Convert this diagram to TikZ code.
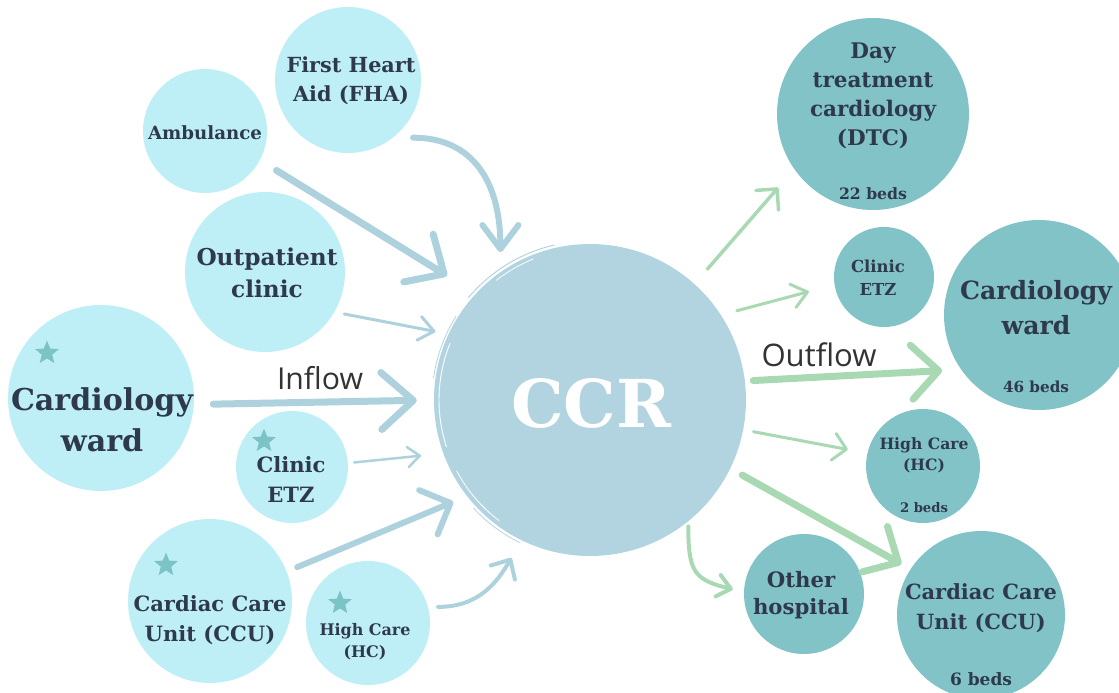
\documentclass[tikz,border=0pt]{standalone}
\usepackage{fontspec}
\setmainfont{DejaVu Serif}
\newfontfamily\flowfont{Open Sans}
\usetikzlibrary{arrows.meta,shapes.geometric}

\definecolor{skyfill}{HTML}{BFEFF6}
\definecolor{wardfill}{HTML}{82C3C8}
\definecolor{hubfill}{HTML}{B2D4E0}
\definecolor{inflowc}{HTML}{ADD2DE}
\definecolor{outflowc}{HTML}{A9D9B3}
\definecolor{ink}{HTML}{2E3A4C}
\definecolor{starc}{HTML}{7CC3C5}

% set the font so that a reference line gets a given width (#1, in pt);
% #3 is the line spacing in pt
\newlength\fitlen
\newcommand\fitw[3]{%
  \fontsize{10pt}{12pt}\selectfont
  \settowidth\fitlen{#2}%
  \pgfmathsetmacro\fitsize{10*#1/\fitlen}%
  \fontsize{\fitsize pt}{#3pt}\selectfont}

\begin{document}
\begin{tikzpicture}[x=1pt,y=-1pt,
  sourcenode/.style={circle, fill=skyfill, inner sep=0pt, minimum size=#1},
  wardnode/.style={circle, fill=wardfill, inner sep=0pt, minimum size=#1},
  hubnode/.style={circle, fill=hubfill, inner sep=0pt, minimum size=312pt},
  txt/.style={text=ink, align=center, inner sep=0pt, anchor=north},
  bedtxt/.style={text=ink, inner sep=0pt, anchor=base},
  flowtxt/.style={text=black!80, inner sep=0pt, anchor=base},
  starmark/.style={star, star points=5, star point ratio=2.3, fill=starc,
    inner sep=0pt, minimum size=25pt},
  scribble/.style={line width=#1, line cap=round},
  inarr/.style n args={3}{draw=inflowc, line width=#1, line cap=round,
    -{Straight Barb[round,length=#2,width=#3]}},
  outarr/.style n args={3}{draw=outflowc, line width=#1, line cap=round,
    -{Straight Barb[round,length=#2,width=#3]}}]

\useasboundingbox (0,0) rectangle (1119,693);
\clip (0,0) rectangle (1119,693);

% sources (inflow)
\node[sourcenode=146pt] (fha)  at (348,80)  {};
\node[sourcenode=124pt] (amb)  at (205,131) {};
\node[sourcenode=160pt] (opc)  at (265,272) {};
\node[sourcenode=186pt] (cwl)  at (101,398) {};
\node[sourcenode=112pt] (etzl) at (292,467) {};
\node[sourcenode=164pt] (ccul) at (210,601) {};
\node[sourcenode=124pt] (hcl)  at (368,623) {};

% hub, with a brushed rim
\node[hubnode] (ccr) at (590,400) {};
\draw[hubfill, scribble=1pt]   (ccr.center) ++(-103:159) arc[start angle=-103, end angle=-140, radius=159];
\draw[hubfill, scribble=0.8pt] (ccr.center) ++(-148:158) arc[start angle=-148, end angle=-172, radius=158];
\draw[hubfill, scribble=0.8pt] (ccr.center) ++(137:159) arc[start angle=137, end angle=116, radius=159];
\draw[white, scribble=0.9pt]   (ccr.center) ++(-158:151) arc[start angle=-158, end angle=-198, radius=151];
\draw[white, scribble=0.8pt]   (ccr.center) ++(-112:152) arc[start angle=-112, end angle=-128, radius=152];
\draw[white, scribble=0.8pt]   (ccr.center) ++(152:151) arc[start angle=152, end angle=127, radius=151];

% destinations (outflow)
\node[wardnode=192pt] (dtc)  at (873,114)  {};
\node[wardnode=100pt] (etzr) at (884,277)  {};
\node[wardnode=190pt] (cwr)  at (1039,315) {};
\node[wardnode=114pt] (hcr)  at (923,466)  {};
\node[wardnode=120pt] (oth)  at (804,594)  {};
\node[wardnode=168pt] (ccur) at (981,615)  {};

% inflow arrows
\draw[inarr={6pt}{24pt}{36pt}, shorten <=20pt, shorten >=20pt]
  (fha.-52.6) .. controls +(80,0) and +(0,-90) .. (ccr.125.7);
\draw[inarr={7pt}{30pt}{56pt}, shorten <=19.5pt, shorten >=33.8pt] (amb.-28.7) -- (ccr.137.1);
\draw[inarr={3pt}{15pt}{24pt}, shorten <=9.9pt, shorten >=13.2pt] (opc.-30) -- (ccr.155.7);
\draw[inarr={7pt}{32pt}{57pt}, shorten <=19.3pt, shorten >=17pt] (cwl.-4.3) -- (ccr.180.8);
\draw[inarr={2.5pt}{12pt}{20pt}, shorten <=6.2pt, shorten >=22.3pt] (etzl.4.5) -- (ccr.-160.3);
\draw[inarr={6pt}{24pt}{48pt}, shorten <=11.4pt, shorten >=14.8pt] (ccul.21.1) -- (ccr.-142.9);
\draw[inarr={4pt}{15pt}{28pt}, shorten <=10pt, shorten >=20.2pt]
  (hcl.15) .. controls +(50,0) and +(-25,43) .. (ccr.-116.6);

% outflow arrows
\draw[outarr={3.5pt}{15pt}{30pt}, shorten <=19.7pt, shorten >=24.4pt] (ccr.48.7) -- (dtc.-145.2);
\draw[outarr={3pt}{15pt}{24pt}, shorten <=16.3pt, shorten >=26.4pt] (ccr.33.4) -- (etzr.-171.6);
\draw[outarr={7pt}{27pt}{54pt}, shorten <=8.2pt, shorten >=18.9pt] (ccr.7.2) -- (cwr.-145.3);
\draw[outarr={3pt}{13pt}{27pt}, shorten <=10.3pt, shorten >=19.7pt] (ccr.-11.5) -- (hcr.167.3);
\draw[outarr={7pt}{27pt}{52pt}, shorten <=13.5pt, shorten >=10.3pt] (ccr.-26) -- (ccur.147.7);
\draw[outarr={4pt}{13pt}{22pt}, shorten <=5pt, shorten >=11.4pt]
  (ccr.-51.6) .. controls +(0,50) and +(-50,-12) .. (oth.178.1);

% stars
\node[starmark] (cwl-s)  at (47,353)  {};
\node[starmark] (etzl-s) at (264,441) {};
\node[starmark] (ccul-s) at (166,565) {};
\node[starmark] (hcl-s)  at (340,603) {};

% source labels
\node[txt, font={\bfseries\fitw{129}{First Heart}{29}}] (fha-t) at (351,57) {First Heart\\Aid (FHA)};
\node[bedtxt, font={\bfseries\fitw{114}{Ambulance}{20}}] (amb-t) at (205,139) {Ambulance};
\node[txt, font={\bfseries\fitw{141}{Outpatient}{32}}] (opc-t) at (267,248) {Outpatient\\clinic};
\node[txt, font={\bfseries\fitw{182}{Cardiology}{41}}] (cwl-t) at (102,387) {Cardiology\\ward};
\node[txt, font={\bfseries\fitw{69}{Clinic}{30}}] (etzl-t) at (291,456) {Clinic\\ETZ};
\node[txt, font={\bfseries\fitw{153}{Cardiac Care}{30}}] (ccul-t) at (210,595) {Cardiac Care\\Unit (CCU)};
\node[txt, font={\bfseries\fitw{91}{High Care}{22}}] (hcl-t) at (365,623) {High Care\\(HC)};

% hub label
\node[bedtxt, text=white, font={\bfseries\fitw{160}{CCR}{60}}] (ccr-t) at (591,427) {CCR};

% destination labels
\node[txt, font={\bfseries\fitw{126}{cardiology}{29}}] (dtc-t) at (873,43) {Day\\treatment\\cardiology\\(DTC)};
\node[bedtxt, font={\bfseries\fitw{68}{22 beds}{18}}] (dtc-b) at (873,199) {22 beds};
\node[txt, font={\bfseries\fitw{54}{Clinic}{23}}] (etzr-t) at (878,260) {Clinic\\ETZ};
\node[txt, font={\bfseries\fitw{152}{Cardiology}{35}}] (cwr-t) at (1036,280) {Cardiology\\ward};
\node[bedtxt, font={\bfseries\fitw{66}{46 beds}{18}}] (cwr-b) at (1036,392) {46 beds};
\node[txt, font={\bfseries\fitw{89}{High Care}{21}}] (hcr-t) at (924,437) {High Care\\(HC)};
\node[bedtxt, font={\bfseries\fitw{48}{2 beds}{16}}] (hcr-b) at (924,512) {2 beds};
\node[txt, font={\bfseries\fitw{96}{hospital}{27}}] (oth-t) at (801,571) {Other\\hospital};
\node[txt, font={\bfseries\fitw{152}{Cardiac Care}{30}}] (ccur-t) at (981,583) {Cardiac Care\\Unit (CCU)};
\node[bedtxt, font={\bfseries\fitw{62}{6 beds}{18}}] (ccur-b) at (981,685) {6 beds};

% flow captions
\node[flowtxt, font={\flowfont\fitw{86}{Inflow}{30}}] (inflow) at (320,389) {Inflow};
\node[flowtxt, font={\flowfont\fitw{115}{Outflow}{30}}] (outflow) at (819,366) {Outflow};
\end{tikzpicture}
\end{document}
